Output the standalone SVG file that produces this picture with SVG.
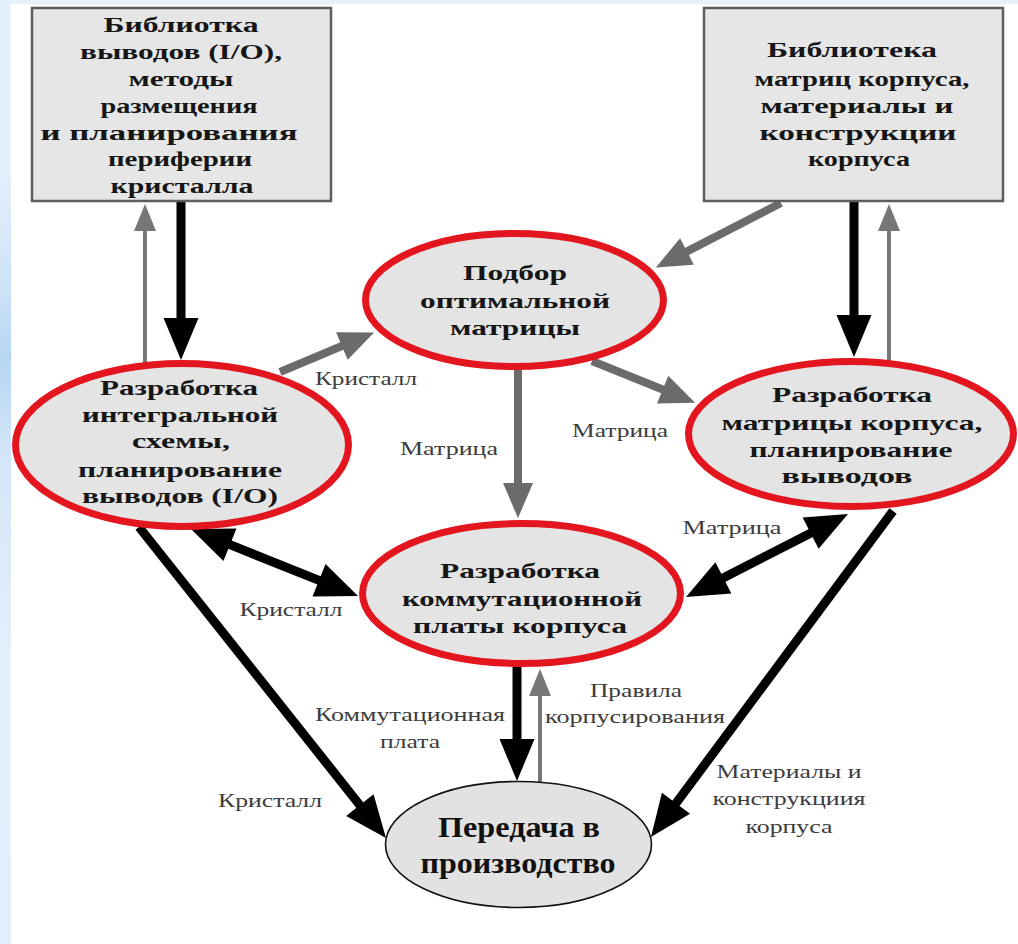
<svg xmlns="http://www.w3.org/2000/svg" width="1018" height="944" viewBox="0 0 1018 944">
<defs>
<linearGradient id="strip" x1="0" y1="0" x2="0" y2="1">
<stop offset="0" stop-color="#e6f0fb"/>
<stop offset="0.18" stop-color="#e4effb"/>
<stop offset="0.3" stop-color="#cfe4f8"/>
<stop offset="0.38" stop-color="#b6d6f3"/>
<stop offset="0.48" stop-color="#d3e6f8"/>
<stop offset="0.7" stop-color="#e4effb"/>
<stop offset="1" stop-color="#e2eefb"/>
</linearGradient>
<marker id="mb" markerUnits="userSpaceOnUse" markerWidth="42" markerHeight="36" refX="2" refY="17.5" orient="auto-start-reverse" overflow="visible">
<path d="M0,0 L42,17.5 L0,35 z" fill="#000"/>
</marker>
<marker id="mg" markerUnits="userSpaceOnUse" markerWidth="36" markerHeight="30" refX="2" refY="15" orient="auto" overflow="visible">
<path d="M0,0 L35,15 L0,30 z" fill="#6b6b6b"/>
</marker>
<marker id="mt" markerUnits="userSpaceOnUse" markerWidth="27" markerHeight="22" refX="2" refY="11" orient="auto" overflow="visible">
<path d="M0,0 L27,11 L0,22 z" fill="#777"/>
</marker>
</defs>
<style>
.box{fill:#e6e6e6;stroke:#5e5e5e;stroke-width:2.5}
.red{fill:#e4e4e4;stroke:#e3161f;stroke-width:7}
.plain{fill:#e2e2e2;stroke:#111;stroke-width:1.6}
.nt{font-family:'Liberation Serif','DejaVu Serif',serif;font-weight:bold;font-size:22px;fill:#161616;text-anchor:middle}
.bt{font-family:'Liberation Serif','DejaVu Serif',serif;font-weight:bold;font-size:29px;fill:#111;text-anchor:middle}
.lb{font-family:'Liberation Serif','DejaVu Serif',serif;font-size:19px;fill:#3c3c3c;text-anchor:middle}
.k{stroke:#000;stroke-width:9;fill:none}
.g{stroke:#6b6b6b;stroke-width:8;fill:none}
.t{stroke:#777;stroke-width:4;fill:none}
</style>
<rect x="0" y="0" width="1018" height="944" fill="#fff"/>
<rect x="0" y="0" width="1018" height="4" fill="#e8f1fb"/>
<rect x="0" y="0" width="11" height="944" fill="url(#strip)"/>

<g id="connectors">
<line class="k" x1="181" y1="201" x2="181" y2="320" marker-end="url(#mb)"/>
<line class="t" x1="145" y1="366" x2="145" y2="229" marker-end="url(#mt)"/>
<line class="k" x1="854" y1="201" x2="854" y2="317" marker-end="url(#mb)"/>
<line class="t" x1="889" y1="362" x2="889" y2="229" marker-end="url(#mt)"/>
<line class="g" x1="781" y1="203" x2="685.2" y2="252.4" marker-end="url(#mg)"/>
<line class="g" x1="280" y1="372" x2="343.7" y2="345.2" marker-end="url(#mg)"/>
<line class="g" x1="592" y1="361" x2="664.5" y2="390.3" marker-end="url(#mg)"/>
<line class="g" x1="518" y1="370" x2="518" y2="485" marker-end="url(#mg)"/>
<line class="k" x1="228.1" y1="543.9" x2="320.9" y2="581.1" marker-start="url(#mb)" marker-end="url(#mb)"/>
<line class="k" x1="721.6" y1="578.8" x2="812.4" y2="532.2" marker-start="url(#mb)" marker-end="url(#mb)"/>
<line class="k" x1="139" y1="527" x2="361.1" y2="806.7" marker-end="url(#mb)"/>
<line class="k" x1="893" y1="511" x2="674.8" y2="804.9" marker-end="url(#mb)"/>
<line class="k" x1="517" y1="667" x2="517" y2="741" marker-end="url(#mb)"/>
<line class="t" x1="540" y1="782" x2="540" y2="694" marker-end="url(#mt)"/>
</g>

<g id="labels">
<text class="lb" x="366" y="385" textLength="102" lengthAdjust="spacingAndGlyphs">Кристалл</text>
<text class="lb" x="449" y="455" textLength="98" lengthAdjust="spacingAndGlyphs">Матрица</text>
<text class="lb" x="620" y="437" textLength="96" lengthAdjust="spacingAndGlyphs">Матрица</text>
<text class="lb" x="732" y="534" textLength="99" lengthAdjust="spacingAndGlyphs">Матрица</text>
<text class="lb" x="291" y="616" textLength="103" lengthAdjust="spacingAndGlyphs">Кристалл</text>
<text class="lb" x="410" y="721" textLength="190" lengthAdjust="spacingAndGlyphs">Коммутационная</text>
<text class="lb" x="410" y="748" textLength="60" lengthAdjust="spacingAndGlyphs">плата</text>
<text class="lb" x="636" y="697" textLength="92" lengthAdjust="spacingAndGlyphs">Правила</text>
<text class="lb" x="635" y="723" textLength="180" lengthAdjust="spacingAndGlyphs">корпусирования</text>
<text class="lb" x="789" y="778" textLength="145" lengthAdjust="spacingAndGlyphs">Материалы и</text>
<text class="lb" x="789" y="805" textLength="153" lengthAdjust="spacingAndGlyphs">конструкциия</text>
<text class="lb" x="789" y="833" textLength="87" lengthAdjust="spacingAndGlyphs">корпуса</text>
<text class="lb" x="270" y="807" textLength="104" lengthAdjust="spacingAndGlyphs">Кристалл</text>
</g>

<g id="lib-io">
<rect class="box" x="32" y="8" width="299" height="193"/>
<text class="nt" x="181" y="32" textLength="155" lengthAdjust="spacingAndGlyphs">Библиотка</text>
<text class="nt" x="181" y="59" textLength="202" lengthAdjust="spacingAndGlyphs">выводов (I/O),</text>
<text class="nt" x="181" y="86" textLength="105" lengthAdjust="spacingAndGlyphs">методы</text>
<text class="nt" x="179" y="113" textLength="157" lengthAdjust="spacingAndGlyphs">размещения</text>
<text class="nt" x="169" y="140" textLength="257" lengthAdjust="spacingAndGlyphs">и планирования</text>
<text class="nt" x="180" y="166" textLength="144" lengthAdjust="spacingAndGlyphs">периферии</text>
<text class="nt" x="182" y="193" textLength="143" lengthAdjust="spacingAndGlyphs">кристалла</text>
</g>

<g id="lib-pkg">
<rect class="box" x="704" y="8" width="299" height="193"/>
<text class="nt" x="852" y="57" textLength="170" lengthAdjust="spacingAndGlyphs">Библиотека</text>
<text class="nt" x="862" y="86" textLength="215" lengthAdjust="spacingAndGlyphs">матриц корпуса,</text>
<text class="nt" x="857" y="113" textLength="193" lengthAdjust="spacingAndGlyphs">материалы и</text>
<text class="nt" x="858" y="140" textLength="197" lengthAdjust="spacingAndGlyphs">конструкции</text>
<text class="nt" x="859" y="166" textLength="102" lengthAdjust="spacingAndGlyphs">корпуса</text>
</g>

<g id="select-matrix">
<ellipse class="red" cx="514.5" cy="300" rx="149" ry="66.5"/>
<text class="nt" x="515" y="280" textLength="104" lengthAdjust="spacingAndGlyphs">Подбор</text>
<text class="nt" x="515" y="308" textLength="190" lengthAdjust="spacingAndGlyphs">оптимальной</text>
<text class="nt" x="515" y="335" textLength="130" lengthAdjust="spacingAndGlyphs">матрицы</text>
</g>

<g id="ic-design">
<ellipse class="red" cx="182" cy="445" rx="166.5" ry="81.5"/>
<text class="nt" x="179" y="395" textLength="158" lengthAdjust="spacingAndGlyphs">Разработка</text>
<text class="nt" x="180" y="422" textLength="196" lengthAdjust="spacingAndGlyphs">интегральной</text>
<text class="nt" x="181" y="448" textLength="98" lengthAdjust="spacingAndGlyphs">схемы,</text>
<text class="nt" x="180" y="477" textLength="204" lengthAdjust="spacingAndGlyphs">планирование</text>
<text class="nt" x="180" y="503" textLength="196" lengthAdjust="spacingAndGlyphs">выводов (I/O)</text>
</g>

<g id="pkg-matrix">
<ellipse class="red" cx="851" cy="434" rx="162.5" ry="72.5"/>
<text class="nt" x="852" y="402" textLength="160" lengthAdjust="spacingAndGlyphs">Разработка</text>
<text class="nt" x="852" y="430" textLength="261" lengthAdjust="spacingAndGlyphs">матрицы корпуса,</text>
<text class="nt" x="851" y="457" textLength="203" lengthAdjust="spacingAndGlyphs">планирование</text>
<text class="nt" x="847" y="483" textLength="131" lengthAdjust="spacingAndGlyphs">выводов</text>
</g>

<g id="substrate">
<ellipse class="red" cx="521.5" cy="593.5" rx="159" ry="70"/>
<text class="nt" x="520" y="578" textLength="160" lengthAdjust="spacingAndGlyphs">Разработка</text>
<text class="nt" x="522" y="606" textLength="240" lengthAdjust="spacingAndGlyphs">коммутационной</text>
<text class="nt" x="520" y="633" textLength="214" lengthAdjust="spacingAndGlyphs">платы корпуса</text>
</g>

<g id="production">
<ellipse class="plain" cx="518.5" cy="844.5" rx="133" ry="63"/>
<text class="bt" x="519" y="837" textLength="162" lengthAdjust="spacingAndGlyphs">Передача в</text>
<text class="bt" x="518" y="873" textLength="195" lengthAdjust="spacingAndGlyphs">производство</text>
</g>
</svg>
